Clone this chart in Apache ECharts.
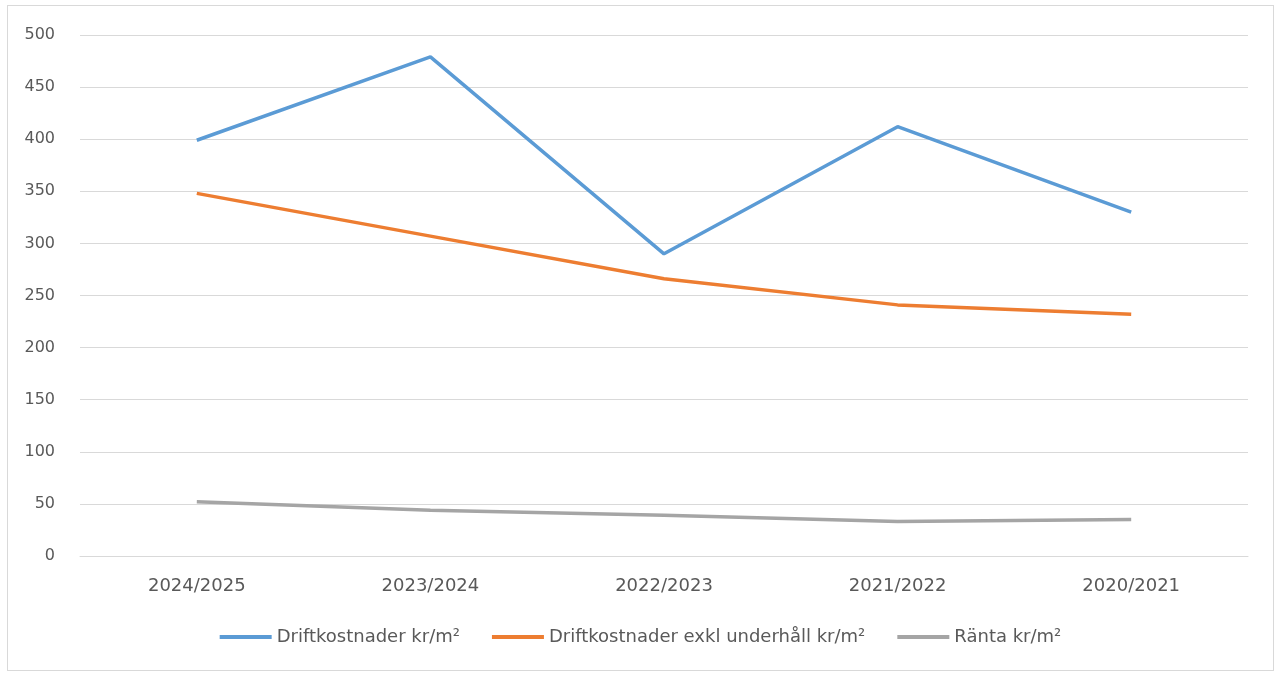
<!DOCTYPE html>
<html>
<head>
<meta charset="utf-8">
<script src="https://cdn.jsdelivr.net/npm/echarts@6/dist/echarts.min.js"></script>
<style>
  html, body { margin: 0; padding: 0; background: #fff; }
  #frame { position: absolute; left: 7px; top: 5px; width: 1267px; height: 666px; border: 1px solid #d9d9d9; box-sizing: border-box; }
  #lineChart { position: absolute; left: 0; top: 0; width: 1281px; height: 677px; }
</style>
</head>
<body>
<div id="frame"></div>
<div id="lineChart"></div>
<script>
const categories = ['2024/2025', '2023/2024', '2022/2023', '2021/2022', '2020/2021'];
const driftkostnader = [399, 479, 290, 412, 330];
const driftkostnaderExkl = [348, 307, 266, 241, 232];
const ranta = [52, 44, 39, 33, 35];
const seriesNames = ['Driftkostnader kr/m²', 'Driftkostnader exkl underhåll kr/m²', 'Ränta kr/m²'];

const chart = echarts.init(document.getElementById('lineChart'));
const font = 'DejaVu Sans';

const makeSeries = (name, data, color) => ({
  name: name,
  type: 'line',
  data: data,
  symbol: 'none',
  lineStyle: { color: color, width: 3.5 },
  itemStyle: { color: color },
});

chart.setOption({
  animation: false,
  grid: { left: 80, right: 33, top: 35, bottom: 121, containLabel: false },
  legend: {
    bottom: 26,
    left: 'center',
    itemWidth: 52,
    itemHeight: 4,
    itemGap: 32,
    icon: 'rect',
    textStyle: { color: '#595959', fontSize: 18, fontFamily: font },
    data: seriesNames,
  },
  xAxis: {
    type: 'category',
    data: categories,
    boundaryGap: true,
    axisLine: { lineStyle: { color: '#d9d9d9', width: 1 } },
    axisTick: { show: false },
    axisLabel: { color: '#595959', fontSize: 18, fontFamily: font, margin: 21 },
  },
  yAxis: {
    type: 'value',
    min: 0,
    max: 500,
    interval: 50,
    axisLine: { show: false },
    axisTick: { show: false },
    axisLabel: { color: '#595959', fontSize: 16, fontFamily: font, margin: 25 },
    splitLine: { lineStyle: { color: '#d9d9d9', width: 1 } },
  },
  series: [
    makeSeries(seriesNames[0], driftkostnader, '#5b9bd5'),
    makeSeries(seriesNames[1], driftkostnaderExkl, '#ed7d31'),
    makeSeries(seriesNames[2], ranta, '#a5a5a5'),
  ],
});
</script>
</body>
</html>
